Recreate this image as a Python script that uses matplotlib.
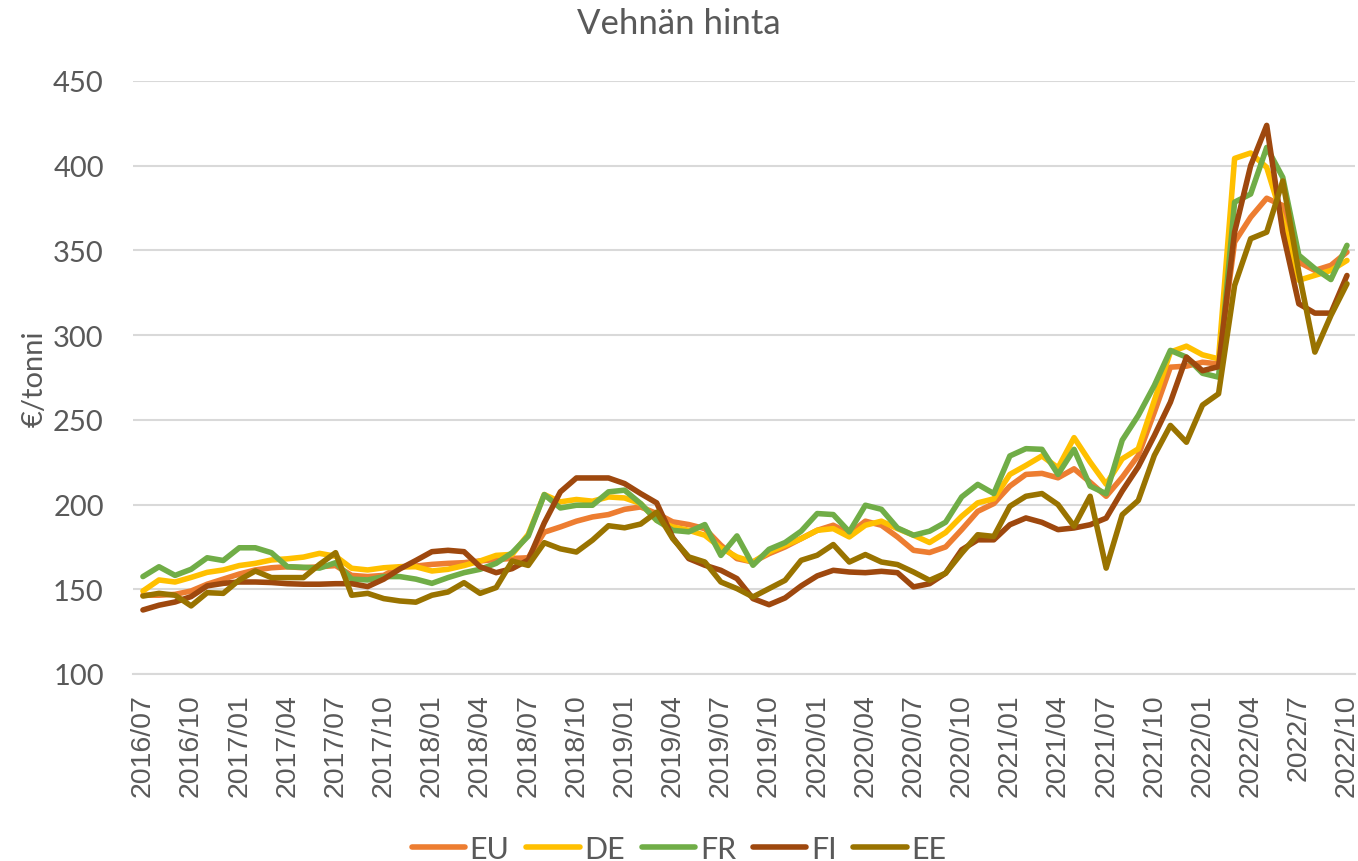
import matplotlib
matplotlib.use("Agg")
import matplotlib.pyplot as plt
import numpy as np

# Months 2016/07 .. 2022/10
start_year, start_month = 2016, 7
n_months = 76
months = [f"{start_year + (start_month - 1 + k) // 12}/{(start_month - 1 + k) % 12 + 1:02d}" for k in range(n_months)]

EU = [146.5, 146.5, 147, 149, 153, 156, 159, 161.4, 162.7, 163.3, 162.7, 163.3, 164, 158.2, 157.5, 158.2,
      163.3, 163.7, 164.7, 165.3, 165.7, 166.7, 167.6, 168.2, 168.6, 183.7, 186.8, 190.2, 192.7, 194.1, 197.2,
      198.6, 194.7, 189.8, 188.2, 185.8, 176, 168.1, 166.1, 171, 175, 179.9, 184.8, 187.8, 182.9, 190.2, 187.8,
      180.9, 173, 171.7, 175, 185.2, 196, 200.6, 210.9, 217.8, 218.4, 215.8, 221.1, 213.2, 204.9, 216.1, 229,
      254.5, 281.1, 281.7, 284, 283, 354.9, 369.6, 380.8, 376.5, 343.1, 338.2, 341.2, 349]
DE = [149, 155.5, 154.3, 157, 160, 161.4, 164, 165.3, 167.3, 168, 169, 171.2, 169.5, 162.4, 161.4, 162.7,
      163.3, 163.3, 160.8, 161.8, 164, 166.7, 170, 170.6, 182.4, 205.9, 201.6, 203, 202, 204.5, 203.9,
      200.6, 190.7, 186.8, 184.8, 181.9, 174.4, 169.1, 166.1, 172, 176, 179.9, 184.8, 185.8, 180.9, 187.8, 190.2,
      185.8, 181.9, 177.6, 183.5, 193.1, 201, 203.4, 217.8, 223.1, 228.7, 221.7, 239.5, 225.1, 212, 227, 232.9,
      261.4, 290, 293.5, 288.4, 286, 404.3, 407.5, 399, 368, 332.4, 335.3, 338.2, 344.1]
FR = [157.5, 163.3, 158.2, 161.8, 168.6, 167, 174.5, 174.5, 171.6, 163.3, 163, 162.5, 165.7, 156, 155.5, 157.5,
      157.5, 156, 153.5, 156.9, 159.8, 161.8, 165.3, 171.6, 181.4, 205.9, 198, 199.6, 199.6, 207.5, 208.5,
      200.6, 190.7, 184.8, 183.9, 188.2, 170, 181.5, 164.2, 173.6, 177.6, 184.3, 194.7, 194.1, 183.9, 199.6, 197.2,
      186.2, 181.9, 184.3, 189.6, 204.5, 211.9, 206.5, 228.7, 233, 232.6, 217.8, 232.6, 210.9, 206.4, 238, 252.6,
      270.3, 291, 287, 277.5, 275.2, 378.5, 383.3, 410.8, 393.1, 347.2, 339.3, 332.8, 353]
FI = [137.8, 140.6, 142.5, 145.7, 152, 153.5, 154.3, 154.3, 154, 153.3, 153, 153, 153.3, 153.3, 151.6, 156,
      162, 167, 172.2, 173, 172.2, 163.3, 159.8, 162.2, 167.3, 189.2, 207.5, 215.7, 215.7, 215.7, 212.4,
      206.5, 201, 180.5, 168.1, 164.2, 161.2, 156.3, 144.5, 140.9, 144.9, 152, 157.9, 161.2, 160.2, 159.8, 160.6,
      159.8, 151.4, 153.3, 159.5, 173.3, 179.2, 179.2, 188.1, 192.1, 189.5, 185.2, 186.2, 188.1, 192, 208, 222.3,
      240.7, 260.4, 287, 279, 281.4, 360.8, 400, 423.8, 360.8, 318.5, 313, 313, 335.2]
EE = [146, 147.6, 146.5, 140.2, 148, 147.6, 155.5, 160.8, 156.9, 156.9, 156.9, 164.7, 171.6, 146.5, 147.6, 144.5,
      143.1, 142.4, 146.5, 148.4, 153.9, 147.6, 151, 166.7, 164.1, 177.5, 173.9, 172, 179, 187.5, 186.3,
      188.5, 195.5, 179.9, 169.1, 166.1, 154.3, 150.4, 145.5, 150.4, 155.3, 167.1, 170.1, 176.4, 166.1, 170.5, 166.1,
      164.6, 160.2, 155.3, 159.5, 171.3, 182.2, 181.2, 199, 204.9, 206.5, 200, 187.2, 204.9, 162.5, 194, 202.4,
      229, 246.7, 236.8, 258.7, 265.4, 329.3, 356.9, 360.8, 391, 337.2, 290, 311.6, 330.3]

series_names = ["EU", "DE", "FR", "FI", "EE"]
series_values = [EU, DE, FR, FI, EE]
colors = ["#ED7D31", "#FFC000", "#70AD47", "#9E480E", "#997300"]

yticks = [100, 150, 200, 250, 300, 350, 400, 450]
title = "Vehnän hinta"
ylabel = "€/tonni"

text_color = "#595959"
grid_color = "#D9D9D9"

fig = plt.figure(figsize=(13.58, 8.62), dpi=100)
ax = fig.add_axes([133 / 1358, 1 - 675 / 862, (1355 - 133) / 1358, (675 - 82) / 862])

x = np.arange(n_months)
for name, vals, c in zip(series_names, series_values, colors):
    ax.plot(x, vals, color=c, lw=4, label=name, solid_joinstyle="round", solid_capstyle="round", zorder=3)

ax.set_xlim(-0.62, 75.5)
ax.set_ylim(100, 450)
ax.set_yticks(yticks)
ax.set_yticklabels([str(v) for v in yticks], fontsize=21, color=text_color, family="Lato")
ax.yaxis.grid(True, color=grid_color, lw=1.5, zorder=0)
ax.set_axisbelow(True)

tick_idx = list(range(0, n_months, 3))
ax.set_xticks(tick_idx)
ax.set_xticklabels([months[i] if i != 72 else "2022/7" for i in tick_idx], rotation=90,
                   fontsize=20.5, color=text_color, family="Liberation Sans")
ax.tick_params(axis="both", length=0)
ax.tick_params(axis="y", pad=21)
ax.tick_params(axis="x", pad=14)

for s in ["top", "right", "left"]:
    ax.spines[s].set_visible(False)
ax.spines["bottom"].set_color(grid_color)
ax.spines["bottom"].set_linewidth(1.5)

ax.set_ylabel(ylabel, fontsize=21, color=text_color, family="Lato", va="center")
ax.yaxis.set_label_coords((35 - 133) / 1222, 0.5)
fig.text(0.5, 1 - 24 / 862, title, ha="center", va="center", fontsize=25, color=text_color, family="Lato")

leg = fig.legend(loc="center", bbox_to_anchor=(0.5, 1 - 850 / 862), ncol=5, frameon=False,
                 handlelength=1.75, handletextpad=0.15, columnspacing=0.55,
                 prop={"family": "Lato", "size": 22})
for t in leg.get_texts():
    t.set_color(text_color)

fig.savefig("out.png", dpi=100)
